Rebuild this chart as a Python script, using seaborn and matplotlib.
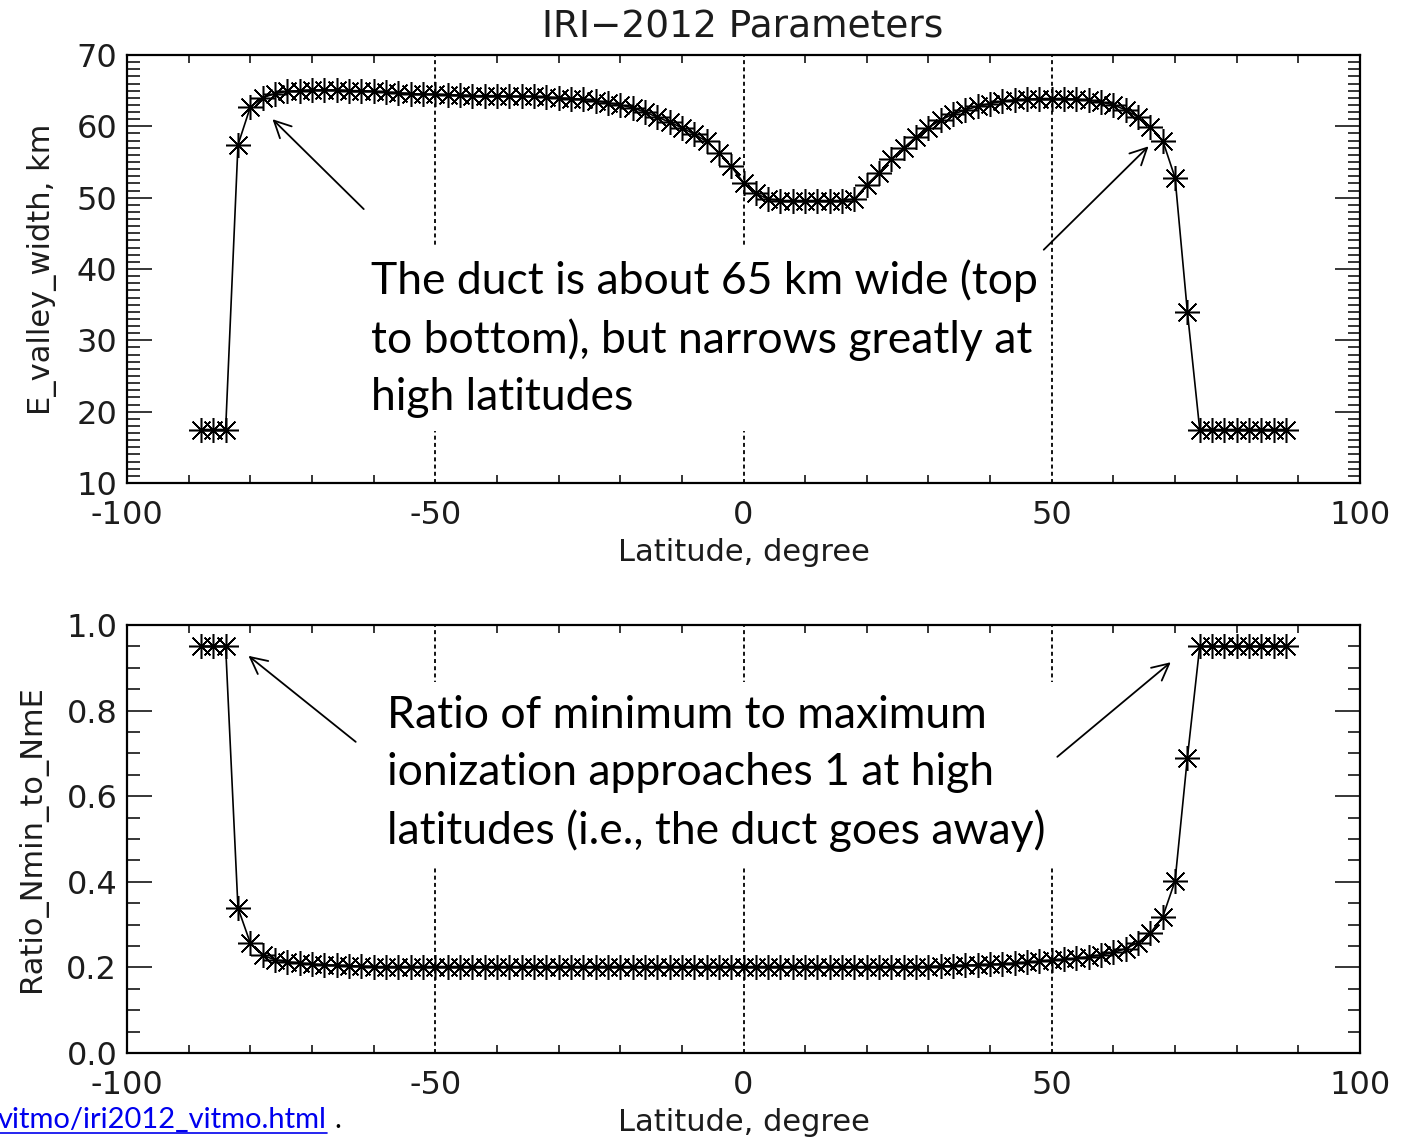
import numpy as np
import pandas as pd
import matplotlib
matplotlib.use("Agg")
import matplotlib.pyplot as plt
import seaborn as sns
from matplotlib.ticker import MultipleLocator, FixedLocator
from matplotlib.lines import Line2D

# ---------------- data ----------------
latitude = [-88, -86, -84, -82, -80, -78, -76, -74, -72, -70,
            -68, -66, -64, -62, -60, -58, -56, -54, -52, -50,
            -48, -46, -44, -42, -40, -38, -36, -34, -32, -30,
            -28, -26, -24, -22, -20, -18, -16, -14, -12, -10,
            -8, -6, -4, -2, 0, 2, 4, 6, 8, 10,
            12, 14, 16, 18, 20, 22, 24, 26, 28, 30,
            32, 34, 36, 38, 40, 42, 44, 46, 48, 50,
            52, 54, 56, 58, 60, 62, 64, 66, 68, 70,
            72, 74, 76, 78, 80, 82, 84, 86, 88]

valley_width_km = [17.5, 17.5, 17.5, 57.4, 62.7, 64.0, 64.6, 64.9, 65.0, 65.1,
                   65.1, 65.1, 65.0, 65.0, 64.9, 64.8, 64.7, 64.6, 64.5, 64.5,
                   64.4, 64.4, 64.3, 64.3, 64.3, 64.2, 64.2, 64.2, 64.1, 64.0,
                   63.9, 63.8, 63.6, 63.3, 63.0, 62.6, 62.0, 61.3, 60.6, 59.8,
                   58.9, 57.9, 56.3, 54.4, 52.1, 50.6, 49.8, 49.6, 49.6, 49.6,
                   49.6, 49.6, 49.6, 49.8, 51.8, 53.5, 55.4, 57.0, 58.5, 59.8,
                   60.9, 61.7, 62.3, 62.8, 63.2, 63.5, 63.7, 63.8, 63.9, 63.9,
                   63.9, 63.8, 63.7, 63.4, 63.0, 62.3, 61.3, 59.9, 58.0, 52.8,
                   34.0, 17.5, 17.5, 17.5, 17.5, 17.5, 17.5, 17.5, 17.5]

ratio_nmin_to_nme = [0.950, 0.950, 0.950, 0.339, 0.257, 0.228, 0.218, 0.213, 0.210, 0.208,
                     0.206, 0.205, 0.204, 0.203, 0.202, 0.202, 0.202, 0.202, 0.202, 0.202,
                     0.202, 0.202, 0.202, 0.202, 0.202, 0.202, 0.202, 0.202, 0.202, 0.202,
                     0.202, 0.202, 0.202, 0.202, 0.202, 0.202, 0.202, 0.202, 0.202, 0.202,
                     0.202, 0.202, 0.202, 0.202, 0.202, 0.202, 0.202, 0.202, 0.202, 0.202,
                     0.202, 0.202, 0.202, 0.202, 0.202, 0.202, 0.202, 0.202, 0.202, 0.202,
                     0.203, 0.204, 0.205, 0.206, 0.207, 0.208, 0.210, 0.212, 0.214, 0.217,
                     0.219, 0.221, 0.225, 0.229, 0.235, 0.244, 0.258, 0.280, 0.318, 0.402,
                     0.690, 0.950, 0.950, 0.950, 0.950, 0.950, 0.950, 0.950, 0.950]

x_ticks = [-100, -50, 0, 50, 100]
x_minor_ticks = [-90, -80, -70, -60, -40, -30, -20, -10, 10, 20, 30, 40, 60, 70, 80, 90]
top_yticks = [10, 20, 30, 40, 50, 60, 70]
bottom_yticks = [0.0, 0.2, 0.4, 0.6, 0.8, 1.0]

title_text = "IRI\u22122012 Parameters"
x_label = "Latitude, degree"
top_ylabel = "E_valley_width, km"
bottom_ylabel = "Ratio_Nmin_to_NmE"
top_note = "The duct is about 65 km wide (top\nto bottom), but narrows greatly at\nhigh latitudes"
bottom_note = "Ratio of minimum to maximum\nionization approaches 1 at high\nlatitudes (i.e., the duct goes away)"
url_text = "vitmo/iri2012_vitmo.html"

# ---------------- style ----------------
sns.set_style("white")
plt.rcParams["font.family"] = ["DejaVu Sans"]
plt.rcParams["axes.unicode_minus"] = True

INK = "#1c1c1c"
fig = plt.figure(figsize=(14.08, 11.39), dpi=100)
ax1 = fig.add_axes([127 / 1408, 1 - 483 / 1139, 1233 / 1408, 428 / 1139])
ax2 = fig.add_axes([127 / 1408, 1 - 1053 / 1139, 1233 / 1408, 428 / 1139])

df = pd.DataFrame({"lat": latitude, "width": valley_width_km, "ratio": ratio_nmin_to_nme})
star = (8, 2, 0)
for ax, col in ((ax1, "width"), (ax2, "ratio")):
    sns.lineplot(data=df, x="lat", y=col, ax=ax, color="black", lw=1.2,
                 marker=star, markersize=18, markeredgewidth=1.1,
                 markeredgecolor="black", estimator=None, sort=False, zorder=3)


def style(ax, ylim, yticks, yminor, ylabel, fmt):
    ax.set_xlim(-100, 100)
    ax.set_ylim(*ylim)
    ax.set_xticks(x_ticks)
    ax.set_xticklabels([str(v) for v in x_ticks])
    ax.xaxis.set_minor_locator(FixedLocator(x_minor_ticks))
    ax.set_yticks(yticks)
    ax.set_yticklabels([fmt.format(v) for v in yticks])
    ax.yaxis.set_minor_locator(MultipleLocator(yminor))
    ax.tick_params(axis="x", which="major", length=0, pad=12, labelsize=23,
                   labelcolor=INK, top=True, bottom=True)
    ax.tick_params(axis="x", which="minor", length=6, width=1.1, direction="in",
                   top=True, bottom=True, color="black")
    ax.tick_params(axis="y", which="major", length=18, width=1.1, direction="in",
                   left=True, right=True, pad=7, labelsize=23, labelcolor=INK, color="black")
    ax.tick_params(axis="y", which="minor", length=9, width=1.1, direction="in",
                   left=True, right=True, color="black")
    ax.grid(False)
    ax.grid(axis="x", which="major", color="black", linestyle=(0, (2.2, 1.8)), lw=1.3)
    for s in ax.spines.values():
        s.set_visible(True)
        s.set_linewidth(1.6)
        s.set_color("black")
    ax.set_xlabel(x_label, fontsize=22, labelpad=5, color=INK)
    ax.set_ylabel(ylabel, fontsize=22, labelpad=14, color=INK)


style(ax1, (10, 70), top_yticks, 1, top_ylabel, "{:d}")
style(ax2, (0, 1.0), bottom_yticks, 0.05, bottom_ylabel, "{:.1f}")

fig.text(743 / 1408, 1 - 27 / 1139, title_text, ha="center", va="center",
         fontsize=27, color=INK)

# ---------------- annotations ----------------
box = dict(boxstyle="square,pad=0.3", fc="white", ec="none")
ax1.text(-60.5, 41.3, top_note, fontsize=32, family="Lato", va="top", ha="left",
         linespacing=1.47, zorder=4, bbox=box, color="black")
ax2.text(-57.8, 0.836, bottom_note, fontsize=32, family="Lato", va="top", ha="left",
         linespacing=1.48, zorder=4, bbox=box, color="black")

arrow = dict(arrowstyle="->", lw=1.3, color="black", mutation_scale=30,
             shrinkA=0, shrinkB=0)
ax1.annotate("", xy=(-76.4, 61.0), xytext=(-61.6, 48.4), arrowprops=arrow, zorder=5)
ax1.annotate("", xy=(65.7, 57.2), xytext=(48.7, 42.7), arrowprops=arrow, zorder=5)
ax2.annotate("", xy=(-80.3, 0.928), xytext=(-62.9, 0.727), arrowprops=arrow, zorder=5)
ax2.annotate("", xy=(69.3, 0.913), xytext=(50.9, 0.692), arrowprops=arrow, zorder=5)

# ---------------- link remnant at bottom-left ----------------
url = fig.text(-2 / 1408, 1 - 1128 / 1139, url_text, ha="left", va="baseline",
               fontsize=21, family="Lato", color="#0000EE")
fig.canvas.draw()
bb = url.get_window_extent(renderer=fig.canvas.get_renderer())
x0 = bb.x0 / 1408
x1 = bb.x1 / 1408
uy = 1 - 1133 / 1139
fig.add_artist(Line2D([max(x0, 0), x1], [uy, uy], transform=fig.transFigure,
                      color="#0000EE", lw=1.2))
fig.text(x1 + 8 / 1408, 1 - 1128 / 1139, ".", ha="left", va="baseline",
         fontsize=21, family="Lato", color="black")

fig.savefig("out.png", dpi=100)
